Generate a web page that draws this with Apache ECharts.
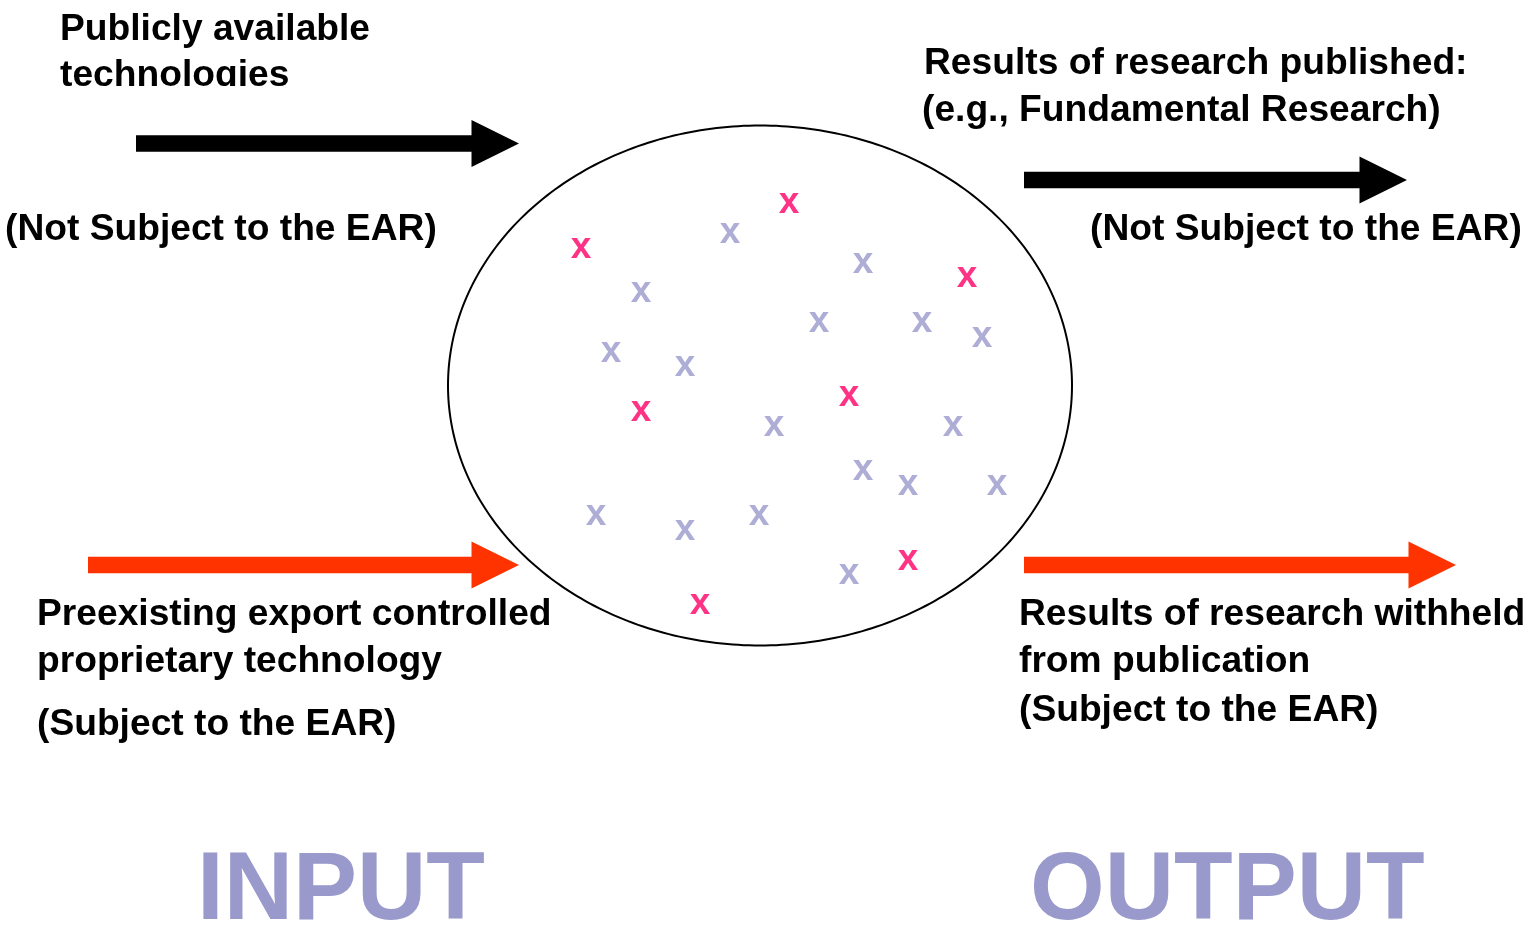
<!DOCTYPE html>
<html><head><meta charset="utf-8">
<script src="https://cdn.jsdelivr.net/npm/echarts@6/dist/echarts.min.js"></script>
<style>html,body{margin:0;padding:0;background:#fff}#c{width:1535px;height:930px}</style>
</head><body><div id="c"></div>
<script>
// ---- data (in canvas units) ----
const controlledMarks = [[581,248],[789,203],[967,277],[641,411],[849,396],[908,560],[700,604]];
const uncontrolledMarks = [[730,233],[641,292],[863,263],[819,322],[922,322],[982,337],[611,352],[685,366],[774,426],[953,426],[863,470],[908,485],[997,485],[596,515],[685,530],[759,515],[849,574]];
const researchEllipse = [[760,385.5,312,260]];          // cx, cy, rx, ry
const publicArrows = [[136,519,143.5],[1024,1407,180]];  // x start, x tip, y
const controlledArrows = [[88,519,565],[1024,1456,565]];
const topLeftLines = ['Publicly available','technologies'];
const topLeftNote = '(Not Subject to the EAR)';
const topRightLines = ['Results of research published:','(e.g., Fundamental Research)'];
const topRightNote = '(Not Subject to the EAR)';
const bottomLeftLines = ['Preexisting export controlled','proprietary technology'];
const bottomLeftNote = '(Subject to the EAR)';
const bottomRightLines = ['Results of research withheld','from publication','(Subject to the EAR)'];
const sideTitles = ['INPUT','OUTPUT'];

// ---- rendering ----
const FONT = '"Liberation Sans", Arial, Helvetica, sans-serif';
const chart = echarts.init(document.getElementById('c'));

function arrowRenderer(color){
  return function(params, api){
    const p0 = api.coord([api.value(0), api.value(2)]);
    const p1 = api.coord([api.value(1), api.value(2)]);
    const hl = 47.5, hh = 23.5, st = 8.3;
    const y = p0[1], bx = p1[0] - hl;
    return {type:'polygon', shape:{points:[[p0[0],y-st],[bx,y-st],[bx,y-hh],[p1[0],y],[bx,y+hh],[bx,y+st],[p0[0],y+st]]},
            style:{fill:color}};
  };
}
function ellipseRenderer(params, api){
  const c = api.coord([api.value(0), api.value(1)]);
  const s = api.size([api.value(2), api.value(3)]);
  const pts = [];
  for (let i = 0; i < 360; i++){
    const a = i * Math.PI / 180;
    pts.push([c[0] + s[0]*Math.cos(a), c[1] + s[1]*Math.sin(a)]);
  }
  return {type:'polygon', shape:{points:pts}, style:{fill:'none', stroke:'#000', lineWidth:2}};
}
function markSeries(data, color){
  return {type:'scatter', data:data, symbolSize:1, silent:true, itemStyle:{color:'rgba(0,0,0,0)'},
    label:{show:true, position:'inside', formatter:'x', color:color, fontSize:37, fontWeight:'bold', fontFamily:FONT, offset:[0,0]}};
}
function textEl(str, x, y, size, color){
  return {type:'text', x:x, y:y, z:10, silent:true,
    style:{text:str, fill:color||'#000', font:'bold '+(size||37.2)+'px '+FONT, verticalAlign:'middle', textVerticalAlign:'middle'}};
}
const texts = [
  textEl(topLeftLines[0], 60, 29.5), textEl(topLeftLines[1], 60, 75.5),
  textEl(topLeftNote, 5, 230),
  textEl(topRightLines[0], 924, 63.5), textEl(topRightLines[1], 922, 110.5),
  textEl(topRightNote, 1090, 229.5),
  textEl(bottomLeftLines[0], 37, 615), textEl(bottomLeftLines[1], 37, 662),
  textEl(bottomLeftNote, 37, 724.5),
  textEl(bottomRightLines[0], 1019, 615), textEl(bottomRightLines[1], 1019, 662), textEl(bottomRightLines[2], 1019, 710.5),
  textEl(sideTitles[0], 197, 893, 96, '#9999CC'), textEl(sideTitles[1], 1030, 893, 96, '#9999CC'),
  {type:'rect', z:20, silent:true, shape:{x:50, y:86, width:280, height:26}, style:{fill:'#fff'}}
];

chart.setOption({
  animation:false,
  backgroundColor:'#fff',
  grid:{left:0, right:0, top:0, bottom:0},
  xAxis:{type:'value', min:0, max:1535, show:false},
  yAxis:{type:'value', min:0, max:930, inverse:true, show:false},
  graphic:{elements:texts},
  series:[
    {type:'custom', renderItem:ellipseRenderer, data:researchEllipse, silent:true, clip:false},
    {type:'custom', renderItem:arrowRenderer('#000000'), data:publicArrows, silent:true, clip:false},
    {type:'custom', renderItem:arrowRenderer('#FF3300'), data:controlledArrows, silent:true, clip:false},
    markSeries(uncontrolledMarks, '#9999CC'),
    markSeries(controlledMarks, '#FF0066')
  ]
});
</script></body></html>
